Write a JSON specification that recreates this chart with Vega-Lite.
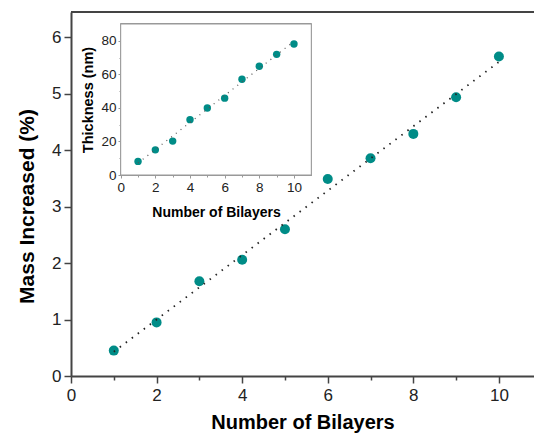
{
  "$schema": "https://vega.github.io/schema/vega-lite/v6.json",
  "width": 463,
  "height": 364,
  "autosize": {"type": "none"},
  "padding": {"left": 71, "top": 12, "right": 0, "bottom": 58},
  "background": "white",
  "config": {
    "view": {"stroke": null},
    "font": "Liberation Sans",
    "axis": {"grid": false, "labelFont": "Liberation Sans", "titleFont": "Liberation Sans", "labelOverlap": false, "labelFlush": false}
  },
  "datasets": {
    "main": [
      {"n": 1, "mass": 0.45}, {"n": 2, "mass": 0.95}, {"n": 3, "mass": 1.68},
      {"n": 4, "mass": 2.06}, {"n": 5, "mass": 2.6}, {"n": 6, "mass": 3.49},
      {"n": 7, "mass": 3.86}, {"n": 8, "mass": 4.29}, {"n": 9, "mass": 4.94},
      {"n": 10, "mass": 5.66}
    ],
    "inset": [
      {"n": 1, "thick": 8.1}, {"n": 2, "thick": 15.0}, {"n": 3, "thick": 20.2},
      {"n": 4, "thick": 33.0}, {"n": 5, "thick": 39.9}, {"n": 6, "thick": 45.8},
      {"n": 7, "thick": 57.1}, {"n": 8, "thick": 64.8}, {"n": 9, "thick": 71.9},
      {"n": 10, "thick": 78.1}
    ]
  },
  "layer": [
    {
      "data": {"name": "main"},
      "layer": [
        {
          "mark": {"type": "rule", "color": "#444444", "strokeWidth": 2},
          "encoding": {"y": {"datum": 6.45, "type": "quantitative"}}
        },
        {
          "mark": {"type": "point", "filled": true, "shape": "circle", "size": 100, "color": "#008C87", "opacity": 1},
          "encoding": {
            "x": {
              "field": "n", "type": "quantitative",
              "scale": {"domain": [0, 10.82], "nice": false, "zero": false},
              "axis": {
                "orient": "bottom",
                "title": "Number of Bilayers",
                "values": [0, 1, 2, 3, 4, 5, 6, 7, 8, 9, 10],
                "labelExpr": "datum.value % 2 === 0 ? format(datum.value, 'd') : ''",
                "tickSize": {"condition": {"test": "datum.value % 2 === 0", "value": 7}, "value": 4},
                "domainColor": "#444444", "domainWidth": 2,
                "tickColor": "#444444", "tickWidth": 1.5,
                "labelFontSize": 17, "labelColor": "#222222", "labelPadding": 4,
                "titleFontSize": 20, "titleFontWeight": "bold", "titleColor": "#000000", "titlePadding": 9
              }
            },
            "y": {
              "field": "mass", "type": "quantitative",
              "scale": {"domain": [0, 6.45], "nice": false},
              "axis": {
                "orient": "left",
                "title": "Mass Increased (%)",
                "values": [0, 0.5, 1, 1.5, 2, 2.5, 3, 3.5, 4, 4.5, 5, 5.5, 6],
                "labelExpr": "datum.value % 1 === 0 ? format(datum.value, 'd') : ''",
                "tickSize": {"condition": {"test": "datum.value % 1 === 0", "value": 7}, "value": 4},
                "domainColor": "#444444", "domainWidth": 2,
                "tickColor": "#444444", "tickWidth": 1.5,
                "labelFontSize": 17, "labelColor": "#222222", "labelPadding": 3,
                "titleFontSize": 21, "titleFontWeight": "bold", "titleColor": "#000000", "titlePadding": 14,
                "titleY": 194
              }
            }
          }
        },
        {
          "transform": [{"regression": "mass", "on": "n"}],
          "mark": {"type": "line", "color": "#222222", "strokeWidth": 1.8, "strokeDash": [1.5, 6]},
          "encoding": {
            "x": {"field": "n", "type": "quantitative"},
            "y": {"field": "mass", "type": "quantitative"}
          }
        }
      ]
    },
    {
      "data": {"name": "inset"},
      "layer": [
        {
          "mark": {"type": "rect", "fill": "white", "stroke": "#999999", "strokeWidth": 1},
          "encoding": {
            "x": {"datum": 0, "type": "quantitative"},
            "x2": {"datum": 11},
            "y": {"datum": 0, "type": "quantitative"},
            "y2": {"datum": 90}
          }
        },
        {
          "mark": {"type": "point", "filled": true, "shape": "circle", "size": 55, "color": "#008C87", "opacity": 1},
          "encoding": {
            "x": {
              "field": "n", "type": "quantitative",
              "scale": {"domain": [0, 11], "nice": false, "zero": false, "range": [49.7, 240.3]},
              "axis": {
                "orient": "bottom", "offset": -201,
                "title": "Number of Bilayers",
                "values": [0, 1, 2, 3, 4, 5, 6, 7, 8, 9, 10],
                "labelExpr": "datum.value % 2 === 0 ? format(datum.value, 'd') : ''",
                "tickSize": {"condition": {"test": "datum.value % 2 === 0", "value": 3}, "value": 2},
                "domainColor": "#999999", "domainWidth": 1,
                "tickColor": "#999999", "tickWidth": 1,
                "labelFontSize": 13.5, "labelColor": "#222222", "labelPadding": 2,
                "titleFontSize": 14, "titleFontWeight": "bold", "titleColor": "#000000", "titlePadding": 12
              }
            },
            "y": {
              "field": "thick", "type": "quantitative",
              "scale": {"domain": [0, 90], "nice": false, "range": [163, 12]},
              "axis": {
                "orient": "left", "offset": -50,
                "title": "Thickness (nm)",
                "values": [0, 10, 20, 30, 40, 50, 60, 70, 80],
                "labelExpr": "datum.value % 20 === 0 ? format(datum.value, 'd') : ''",
                "tickSize": {"condition": {"test": "datum.value % 20 === 0", "value": 3}, "value": 2},
                "domainColor": "#999999", "domainWidth": 1,
                "tickColor": "#999999", "tickWidth": 1,
                "labelFontSize": 13.5, "labelColor": "#222222", "labelPadding": 2,
                "titleFontSize": 14.5, "titleFontWeight": "bold", "titleColor": "#000000", "titlePadding": 5
              }
            }
          }
        },
        {
          "transform": [{"regression": "thick", "on": "n"}],
          "mark": {"type": "line", "color": "#555555", "strokeWidth": 1.2, "strokeDash": [1, 5]},
          "encoding": {
            "x": {"field": "n", "type": "quantitative"},
            "y": {"field": "thick", "type": "quantitative"}
          }
        }
      ]
    }
  ],
  "resolve": {
    "scale": {"x": "independent", "y": "independent"},
    "axis": {"x": "independent", "y": "independent"}
  }
}
